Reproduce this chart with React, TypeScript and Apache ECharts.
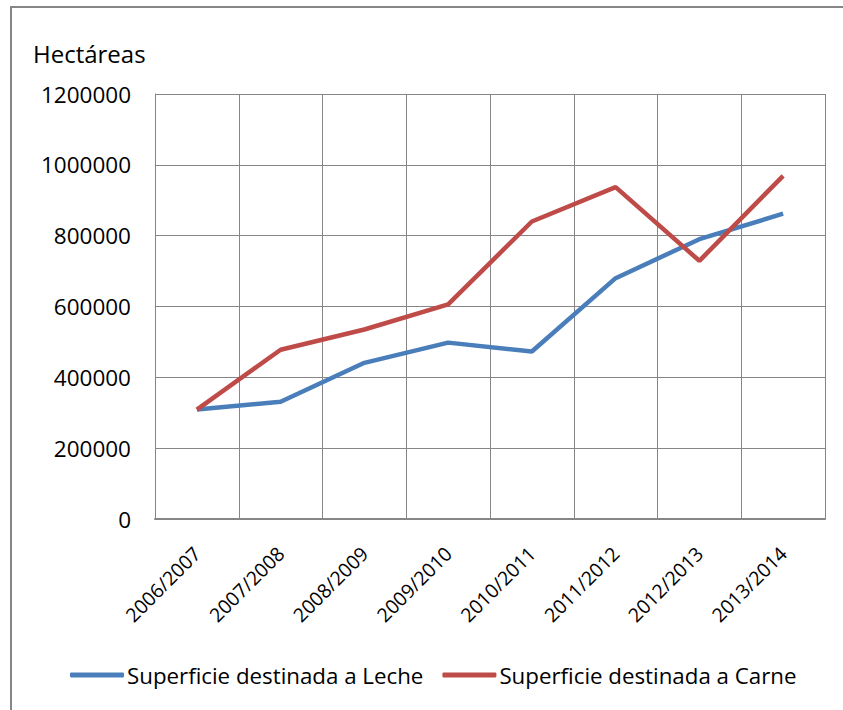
import React, { useEffect, useRef } from "react";
import * as echarts from "echarts";

const categories = ["2006/2007", "2007/2008", "2008/2009", "2009/2010", "2010/2011", "2011/2012", "2012/2013", "2013/2014"];
const leche = [309000, 331000, 441000, 498000, 473000, 680000, 790000, 862000];
const carne = [309000, 478000, 535000, 606000, 840000, 937000, 729000, 969000];
const seriesNames = ["Superficie destinada a Leche", "Superficie destinada a Carne"];
const yAxisTitle = "Hectáreas";

const FONT = "Open Sans";
const GRID = "#868686";

export default function App() {
  const ref = useRef<HTMLDivElement>(null);
  useEffect(() => {
    if (!ref.current) return;
    const chart = echarts.init(ref.current, null, { renderer: "svg" });
    chart.setOption({
      animation: false,
      backgroundColor: "#ffffff",
      textStyle: { fontFamily: FONT, color: "#000" },
      graphic: [
        {
          type: "rect",
          shape: { x: 11, y: 7, width: 900, height: 800 },
          style: { fill: "none", stroke: GRID, lineWidth: 2 },
          silent: true,
        },
        {
          type: "text",
          x: 33,
          y: 53,
          style: { text: yAxisTitle, fontFamily: FONT, fontSize: 24, fill: "#000", textVerticalAlign: "middle" },
        },
      ],
      grid: { left: 155, right: 18, top: 94, bottom: 191, containLabel: false },
      legend: {
        left: 70,
        top: 664,
        padding: 0,
        itemWidth: 54,
        itemHeight: 5,
        itemGap: 19,
        icon: "roundRect",
        textStyle: { fontFamily: FONT, fontSize: 22.3, color: "#000", padding: [0, 0, 0, -2] },
        data: seriesNames,
      },
      xAxis: {
        type: "category",
        data: categories,
        boundaryGap: true,
        axisLine: { show: true, lineStyle: { color: GRID, width: 2 } },
        axisTick: { show: false },
        splitLine: { show: true, lineStyle: { color: GRID, width: 1 } },
        axisLabel: { rotate: 45, margin: 31, fontFamily: FONT, fontSize: 19.5, color: "#000", interval: 0 },
      },
      yAxis: {
        type: "value",
        min: 0,
        max: 1200000,
        interval: 200000,
        axisLine: { show: true, lineStyle: { color: GRID, width: 1 } },
        axisTick: { show: false },
        splitLine: { show: true, lineStyle: { color: GRID, width: 1 } },
        axisLabel: {
          margin: 24,
          fontFamily: FONT,
          fontSize: 22.5,
          color: "#000",
          formatter: (v: number) => String(v),
        },
      },
      series: [
        {
          name: seriesNames[0],
          type: "line",
          data: leche,
          symbol: "none",
          lineStyle: { color: "#4A7EBB", width: 4.5 },
          itemStyle: { color: "#4A7EBB" },
        },
        {
          name: seriesNames[1],
          type: "line",
          data: carne,
          symbol: "none",
          lineStyle: { color: "#BE4B48", width: 4.5 },
          itemStyle: { color: "#BE4B48" },
        },
      ],
    });
    return () => chart.dispose();
  }, []);
  return (
    <div
      ref={ref}
      style={{ position: "fixed", left: 0, top: 0, width: 843, height: 710 }}
    />
  );
}
